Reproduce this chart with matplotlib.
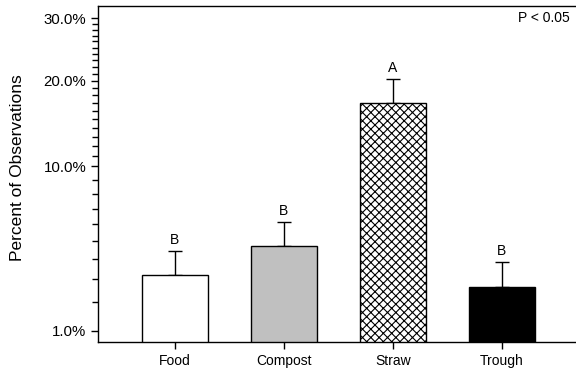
import matplotlib.pyplot as plt
import numpy as np
from matplotlib.ticker import FixedLocator, FuncFormatter

categories = ["Food", "Compost", "Straw", "Trough"]
percent = [3.20, 4.72, 16.99, 2.64]
err_upper = [4.44, 6.14, 20.23, 3.85]
letters = ["B", "B", "A", "B"]
face_colors = ["white", "#c0c0c0", "white", "black"]
hatches = ["", "", "xxxx", ""]

major_ticks = [1, 10, 20, 30]
minor_ticks = [v for v in range(2, 30) if v not in major_ticks]

# the original axis is compressed differently below and above 10 %
P_LO = 0.6
P_HI = 0.39
LO_SPAN = 10 ** P_LO - 1
HI_SPAN = 10 ** P_HI - 1


def forward(v):
    v = np.clip(np.asarray(v, dtype=float), 1e-6, None)
    lo = (v ** P_LO - 1) / LO_SPAN
    hi = 1 + (v ** P_HI - 10 ** P_HI) / HI_SPAN
    return np.where(v <= 10, lo, hi)


def inverse(f):
    f = np.asarray(f, dtype=float)
    lo = np.clip(1 + f * LO_SPAN, 1e-9, None) ** (1 / P_LO)
    hi = np.clip(10 ** P_HI + (f - 1) * HI_SPAN, 1e-9, None) ** (1 / P_HI)
    return np.where(f <= 1, lo, hi)


plt.rcParams["font.family"] = ["Liberation Sans", "DejaVu Sans"]
plt.rcParams["hatch.linewidth"] = 0.8

fig = plt.figure(figsize=(5.76, 3.75), dpi=100)
ax = fig.add_axes([98 / 576, 33 / 375, 1 - 98 / 576, 336 / 375])

x = np.arange(len(categories))
ax.set_yscale("function", functions=(forward, inverse))
bars = ax.bar(x, percent, width=0.6, color=face_colors, edgecolor="black",
              linewidth=1.0, zorder=2)
for bar, h in zip(bars, hatches):
    bar.set_hatch(h)

yerr = [np.zeros(len(percent)), np.array(err_upper) - np.array(percent)]
ax.errorbar(x, percent, yerr=yerr, fmt="none", ecolor="black", elinewidth=1.0,
            capsize=5, capthick=1.0, zorder=1)

for xi, top, lab in zip(x, err_upper, letters):
    ax.annotate(lab, (xi, top), xytext=(0, 3), textcoords="offset points",
                ha="center", va="bottom", fontsize=10)

ax.set_ylim(0.677, 32.3)
ax.set_xlim(-0.706, 3.68)
ax.yaxis.set_major_locator(FixedLocator(major_ticks))
ax.yaxis.set_minor_locator(FixedLocator(minor_ticks))
ax.yaxis.set_major_formatter(FuncFormatter(lambda v, p: f"{v:.1f}%"))
ax.yaxis.set_minor_formatter(FuncFormatter(lambda v, p: ""))
ax.set_xticks(x)
ax.set_xticklabels(categories)

ax.tick_params(axis="both", which="major", length=5, width=1, direction="out")
ax.tick_params(axis="x", labelsize=10)
ax.tick_params(axis="y", labelsize=10.8)
ax.tick_params(axis="y", which="minor", length=4, width=1, direction="out")
ax.spines["right"].set_visible(False)
for s in ["left", "bottom", "top"]:
    ax.spines[s].set_linewidth(1.0)

ax.set_ylabel("Percent of Observations", fontsize=12.5)
ax.yaxis.set_label_coords(-0.152, 0.519)
ax.text(0.987, 0.964, "P < 0.05", transform=ax.transAxes, ha="right", va="center",
        fontsize=10)

fig.savefig("out.png", dpi=100)
